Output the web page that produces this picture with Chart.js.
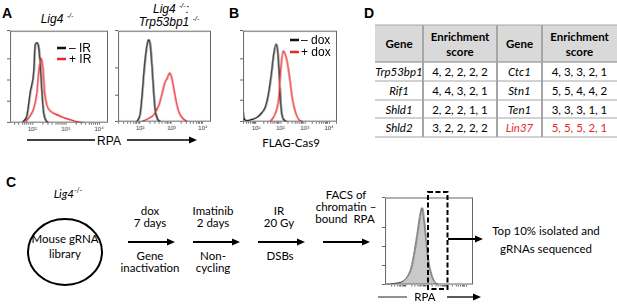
<!DOCTYPE html>
<html>
<head>
<meta charset="utf-8">
<script src="https://cdn.jsdelivr.net/npm/chart.js@4.4.1/dist/chart.umd.min.js"></script>
<style>
  body { margin: 0; background: #fff; }
  #page { position: relative; width: 617px; height: 306px; overflow: hidden;
          font-family: "Liberation Sans", Arial, sans-serif; color: #000; }
  .t { position: absolute; white-space: nowrap; line-height: 1; transform: translate(-50%, -50%); }
  .letter { font-weight: bold; font-size: 14px; }
  .ital { font-style: italic; font-size: 12px; }
  .leg { font-size: 12px; transform: translate(0, -50%); }
  .cal { font-family: Lato, "Open Sans", sans-serif; font-size: 11.5px; }
  .wrap { position: absolute; left: 0; top: 0; width: 120px; height: 120px; }
  sup { font-size: 7px; vertical-align: 5px; }
  .cell { position: absolute; display: flex; align-items: center; justify-content: center;
          text-align: center; font-family: Lato, "Open Sans", sans-serif; font-size: 11.5px; line-height: 15px; }
  svg { position: absolute; left: 0; top: 0; }
</style>
</head>
<body>
<div id="page">
  <div class="wrap" id="wA1"><canvas id="cA1"></canvas></div>
  <div class="wrap" id="wA2"><canvas id="cA2"></canvas></div>
  <div class="wrap" id="wB"><canvas id="cB"></canvas></div>
  <div class="wrap" id="wC"><canvas id="cC"></canvas></div>
</div>
<script>
// ---- histogram data: [intensity, count] ----
const a1MinusIr = [[52,1],[69,10],[87,43],[110,71],[123,111],[138,113],[155,107],[174,81],[195,43],[219,14],[257,3],[302,0]];
const a1PlusIr  = [[62,1],[87,10],[110,20],[138,43],[155,71],[182,91],[209,77],[234,43],[275,24],[355,16],[562,11],[891,7],[1413,4],[2239,1],[3548,0]];
const a2MinusIr = [[78,0],[100,15],[117,55],[138,106],[166,144],[186,153],[209,144],[240,100],[269,55],[302,21],[363,4],[447,0]];
const a2PlusIr  = [[112,0],[186,6],[269,13],[389,30],[501,53],[603,72],[724,81],[871,91],[1000,83],[1175,62],[1413,36],[1738,17],[2291,6],[3236,0]];
const bMinusDox = [[2.9,20],[3.2,4],[4.1,1.5],[6.6,3],[10.7,6],[17.4,13],[23.4,20],[32.4,40],[41.7,66],[52.5,95],[66.1,111],[77.6,100],[91.2,62],[107,19],[129,4],[191,0]];
const bPlusDox  = [[38,0],[62,12],[85,33],[107,81],[129,101],[162,95],[191,85],[240,62],[309,33],[427,12],[575,3],[794,0]];
const screenRpa = [[1.07,0],[3.4,7],[7.1,16],[12.6,43],[19,88],[28,179],[40,287],[54,379],[65,406],[79,352],[100,249],[126,141],[178,60],[257,16],[407,0]];

// tick labels
const aTickValues = [100, 1000, 10000];
const aTickText = ['10²', '10³', '10⁴'];
const bTickValues = [10, 100, 1000, 10000];
const bTickText = ['10¹', '10²', '10³', '10⁴'];

// table
const geneCol1 = ['Trp53bp1', 'Rif1', 'Shld1', 'Shld2'];
const scoreCol1 = ['4, 2, 2, 2, 2', '4, 4, 3, 2, 1', '2, 2, 2, 1, 1', '3, 2, 2, 2, 2'];
const geneCol2 = ['Ctc1', 'Stn1', 'Ten1', 'Lin37'];
const scoreCol2 = ['4, 3, 3, 2, 1', '5, 5, 4, 4, 2', '3, 3, 3, 1, 1', '5, 5, 5, 2, 1'];
const highlightGenes = ['Lin37'];

const BLACK = '#111';
const RED = '#e8282c';
const page = document.getElementById('page');

const frame = {
  id: 'frame',
  afterDatasetsDraw(chart) {
    const a = chart.chartArea, ctx = chart.ctx;
    ctx.save();
    ctx.strokeStyle = '#666';
    ctx.lineWidth = 1;
    ctx.strokeRect(a.left + 0.5, a.top + 0.5, a.right - a.left - 1, a.bottom - a.top - 1);
    ctx.restore();
  }
};

function logTicks(min, max) {
  const out = [];
  for (let d = Math.floor(Math.log10(min)); d <= Math.ceil(Math.log10(max)); d++) {
    for (let m = 1; m <= 9; m++) {
      const v = m * Math.pow(10, d);
      if (v > min && v < max) out.push({ value: v });
    }
  }
  return out;
}

function histogram(id, sets, xMin, xMax, yMax, yStep, tickVals, tickText) {
  return new Chart(document.getElementById(id), {
    type: 'line',
    data: {
      datasets: sets.map(s => ({
        data: s.data,
        borderColor: s.color,
        backgroundColor: s.fill || 'transparent',
        fill: !!s.fill,
        borderWidth: s.width || 1.4,
        pointRadius: 0,
        cubicInterpolationMode: 'monotone'
      }))
    },
    options: {
      responsive: true,
      maintainAspectRatio: false,
      animation: false,
      layout: { padding: 0 },
      plugins: { legend: { display: false }, tooltip: { enabled: false } },
      scales: {
        x: {
          type: 'logarithmic',
          min: xMin, max: xMax,
          afterBuildTicks: ax => { ax.ticks = logTicks(xMin, xMax); },
          border: { display: false },
          grid: { drawOnChartArea: false, drawTicks: true, tickLength: 2, color: '#666' },
          ticks: {
            autoSkip: false, maxRotation: 0, padding: 1,
            font: { size: 6, family: 'Liberation Sans' }, color: '#333',
            callback: v => {
              const i = tickVals.findIndex(t => Math.abs(t - v) < t * 1e-6);
              return i >= 0 ? tickText[i] : '';
            }
          }
        },
        y: {
          min: 0, max: yMax,
          border: { display: false },
          grid: { drawOnChartArea: false, drawTicks: true, tickLength: 3, color: '#666' },
          ticks: { display: false, stepSize: yStep }
        }
      }
    },
    plugins: [frame]
  });
}

// resize & move each chart so its plot box sits on the target rectangle
function fitTo(chart, wrapId, t) {
  const wrap = document.getElementById(wrapId);
  for (let i = 0; i < 3; i++) {
    const a = chart.chartArea;
    const w = chart.width + (t[2] - t[0]) - (a.right - a.left);
    const h = chart.height + (t[3] - t[1]) - (a.bottom - a.top);
    wrap.style.width = w + 'px';
    wrap.style.height = h + 'px';
    chart.resize();
  }
  const a = chart.chartArea;
  wrap.style.left = (t[0] - a.left) + 'px';
  wrap.style.top = (t[1] - a.top) + 'px';
}

const chA1 = histogram('cA1', [
  { data: a1PlusIr, color: RED },
  { data: a1MinusIr, color: BLACK }
], 21.4, 18620, 130, 30, aTickValues, aTickText);
fitTo(chA1, 'wA1', [10, 31, 107, 122]);

const chA2 = histogram('cA2', [
  { data: a2PlusIr, color: RED },
  { data: a2MinusIr, color: BLACK }
], 19.5, 18200, 170, 50, aTickValues, aTickText);
fitTo(chA2, 'wA2', [118, 31, 210, 121]);

const chB = histogram('cB', [
  { data: bPlusDox, color: RED },
  { data: bMinusDox, color: BLACK }
], 2.88, 21380, 130, 30, bTickValues, bTickText);
fitTo(chB, 'wB', [243, 31, 336, 121]);

const chC = histogram('cC', [
  { data: screenRpa, color: '#333', fill: '#c9c9c9', width: 1 }
], 1, 19950, 460, 100, [], []);
fitTo(chC, 'wC', [385, 197, 472, 284]);

// ---- text ----
function text(html, x, y, cls, color) {
  const d = document.createElement('div');
  d.className = 't ' + (cls || '');
  d.innerHTML = html;
  d.style.left = x + 'px';
  d.style.top = y + 'px';
  if (color) d.style.color = color;
  page.appendChild(d);
  return d;
}

text('A', 7, 13, 'letter');
text('B', 234, 13, 'letter');
text('C', 11, 182, 'letter');
text('D', 369, 13, 'letter');

text('Lig4 <sup>-/-</sup>', 57, 18, 'ital');
text('Lig4 <sup>-/-</sup>:', 171, 8, 'ital');
text('Trp53bp1 <sup>-/-</sup>', 169, 21, 'ital');

text('– IR', 69, 48, 'leg');
text('+ IR', 69, 59, 'leg');
text('– dox', 301, 40, 'leg');
text('+ dox', 301, 52, 'leg');

text('RPA', 109, 141, '', null).style.fontSize = '12px';
text('FLAG-Cas9', 291, 143, 'cal');

// flow diagram
text('<i>Lig4</i><sup>-/-</sup>', 68, 193, 'cal');
text('Mouse gRNA', 65, 239, 'cal');
text('library', 65, 254, 'cal');
text('dox', 150, 211, 'cal');
text('7 days', 150, 223, 'cal');
text('Gene', 150, 256, 'cal');
text('inactivation', 150, 268, 'cal');
text('Imatinib', 213, 211, 'cal');
text('2 days', 213, 223, 'cal');
text('Non-', 213, 256, 'cal');
text('cycling', 213, 268, 'cal');
text('IR', 279, 211, 'cal');
text('20 Gy', 279, 223, 'cal');
text('DSBs', 280, 256, 'cal');
text('FACS of', 346, 195, 'cal');
text('chromatin –', 346, 207, 'cal');
text('bound&nbsp; RPA', 345, 219, 'cal');
text('Top 10% isolated and', 546, 231, 'cal');
text('gRNAs sequenced', 546, 249, 'cal');
text('RPA', 425, 297, 'cal');

// ---- table ----
const colX = [375, 423, 497, 542, 617];
const rowY = [25, 62, 81, 100, 118, 137];
function cell(html, c, r, opts) {
  const d = document.createElement('div');
  d.className = 'cell';
  d.style.left = colX[c] + 'px';
  d.style.width = (colX[c + 1] - colX[c]) + 'px';
  d.style.top = rowY[r] + 'px';
  d.style.height = (rowY[r + 1] - rowY[r]) + 'px';
  d.innerHTML = html;
  Object.assign(d.style, opts || {});
  page.appendChild(d);
}
const head = { fontWeight: 'bold', background: '#d9d9d9' };
cell('Gene', 0, 0, head);
cell('Enrichment<br>score', 1, 0, head);
cell('Gene', 2, 0, head);
cell('Enrichment<br>score', 3, 0, head);
geneCol1.forEach((g, i) => {
  cell('<i>' + g + '</i>', 0, i + 1);
  cell(scoreCol1[i], 1, i + 1);
});
geneCol2.forEach((g, i) => {
  const col = highlightGenes.includes(g) ? { color: RED } : {};
  cell('<i>' + g + '</i>', 2, i + 1, col);
  cell(scoreCol2[i], 3, i + 1, col);
});

// ---- lines, arrows, shapes ----
const NS = 'http://www.w3.org/2000/svg';
const svg = document.createElementNS(NS, 'svg');
svg.setAttribute('width', 617);
svg.setAttribute('height', 306);
page.appendChild(svg);
function el(tag, attrs) {
  const e = document.createElementNS(NS, tag);
  for (const k in attrs) e.setAttribute(k, attrs[k]);
  svg.appendChild(e);
  return e;
}
function arrow(x1, x2, y, w, color) {
  el('line', { x1: x1, y1: y, x2: x2 - 6, y2: y, stroke: color || '#000', 'stroke-width': w || 2 });
  el('polygon', { points: `${x2 - 8},${y - 3.5} ${x2},${y} ${x2 - 8},${y + 3.5}`, fill: color || '#000' });
}
// table rules
rowY.forEach((y, i) => el('line', { x1: 375, y1: y, x2: 617, y2: y, stroke: '#a6a6a6', 'stroke-width': i === 1 ? 1.5 : 1 }));
colX.slice(1, 4).forEach(x => el('line', { x1: x, y1: 25, x2: x, y2: 137, stroke: '#a6a6a6', 'stroke-width': 2 }));

// legend swatches
el('line', { x1: 57, y1: 48, x2: 66, y2: 48, stroke: BLACK, 'stroke-width': 2.5 });
el('line', { x1: 57, y1: 59, x2: 66, y2: 59, stroke: RED, 'stroke-width': 2.5 });
el('line', { x1: 290, y1: 40, x2: 299, y2: 40, stroke: BLACK, 'stroke-width': 2.5 });
el('line', { x1: 290, y1: 52, x2: 299, y2: 52, stroke: RED, 'stroke-width': 2.5 });

// RPA axis arrow under A
el('line', { x1: 27, y1: 140, x2: 95, y2: 140, stroke: '#000', 'stroke-width': 1.3 });
arrow(127, 197, 140, 1.3);

// panel C
el('ellipse', { cx: 65, cy: 252, rx: 37, ry: 33, fill: 'none', stroke: '#000', 'stroke-width': 2 });
arrow(128, 175, 242, 2);
arrow(193, 240, 242, 2);
arrow(258, 305, 242, 2);
arrow(323, 370, 242, 2);
el('rect', { x: 428, y: 192, width: 19.5, height: 97, fill: 'none', stroke: '#000', 'stroke-width': 2, 'stroke-dasharray': '5,2.5' });
arrow(448, 483, 239, 2);
el('line', { x1: 378, y1: 297, x2: 407, y2: 297, stroke: '#555', 'stroke-width': 1.3 });
arrow(447, 481, 297, 1.3);
</script>
</body>
</html>
